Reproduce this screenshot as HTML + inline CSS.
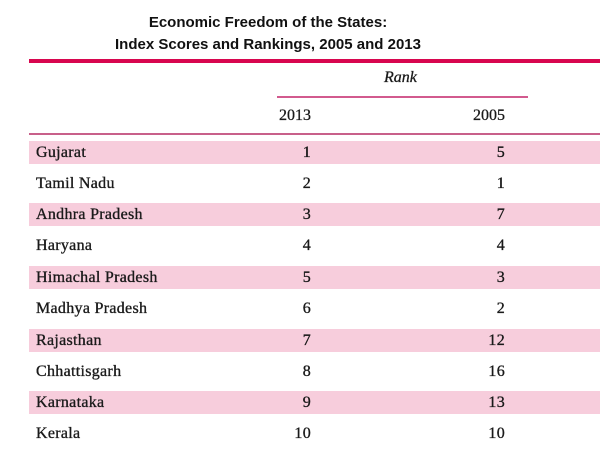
<!DOCTYPE html>
<html><head><style>
body{margin:0;width:600px;height:450px;background:#fff;position:relative;overflow:hidden;font-family:"Liberation Serif",serif;color:#1a1a1a}
.t{position:absolute;left:0;width:536px;text-align:center;font-family:"Liberation Sans",sans-serif;font-weight:bold;font-size:15px;color:#111}
.row{position:absolute;left:29px;width:571px;height:23px}
.pink{background:#f7cddc}
.c{position:absolute;font-size:16px;line-height:23px;letter-spacing:0.3px;top:0;-webkit-text-stroke:0.35px #1a1a1a}
.n1{right:289px;text-align:right}
.n2{right:95px;text-align:right}
.h{-webkit-text-stroke:0.3px #1a1a1a}
</style></head><body>
<div class="t" style="top:14px">Economic Freedom of the States:</div>
<div class="t" style="top:36px">Index Scores and Rankings, 2005 and 2013</div>
<div style="position:absolute;left:29px;top:59px;width:571px;height:4px;background:#d8064f"></div>
<div class="h" style="position:absolute;left:384px;top:69px;font-style:italic;font-size:16px">Rank</div>
<div style="position:absolute;left:277px;top:96px;width:251px;height:2px;background:#d25a8e"></div>
<div class="h" style="position:absolute;right:289px;top:107px;font-size:16px">2013</div>
<div class="h" style="position:absolute;right:95px;top:107px;font-size:16px">2005</div>
<div style="position:absolute;left:29px;top:133px;width:571px;height:2px;background:#c8608a"></div>

<div class="row pink" style="top:141px"><span class="c" style="left:7px">Gujarat</span><span class="c n1">1</span><span class="c n2">5</span></div>
<div class="row" style="top:172px"><span class="c" style="left:7px">Tamil Nadu</span><span class="c n1">2</span><span class="c n2">1</span></div>
<div class="row pink" style="top:203px"><span class="c" style="left:7px">Andhra Pradesh</span><span class="c n1">3</span><span class="c n2">7</span></div>
<div class="row" style="top:234px"><span class="c" style="left:7px">Haryana</span><span class="c n1">4</span><span class="c n2">4</span></div>
<div class="row pink" style="top:266px"><span class="c" style="left:7px">Himachal Pradesh</span><span class="c n1">5</span><span class="c n2">3</span></div>
<div class="row" style="top:297px"><span class="c" style="left:7px">Madhya Pradesh</span><span class="c n1">6</span><span class="c n2">2</span></div>
<div class="row pink" style="top:329px"><span class="c" style="left:7px">Rajasthan</span><span class="c n1">7</span><span class="c n2">12</span></div>
<div class="row" style="top:360px"><span class="c" style="left:7px">Chhattisgarh</span><span class="c n1">8</span><span class="c n2">16</span></div>
<div class="row pink" style="top:391px"><span class="c" style="left:7px">Karnataka</span><span class="c n1">9</span><span class="c n2">13</span></div>
<div class="row" style="top:422px"><span class="c" style="left:7px">Kerala</span><span class="c n1">10</span><span class="c n2">10</span></div>
</body></html>
